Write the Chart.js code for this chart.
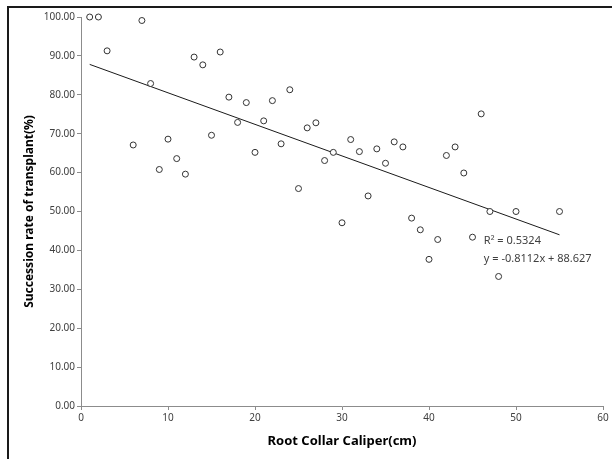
<!DOCTYPE html>
<html lang="en">
<head>
  <meta charset="UTF-8" />
  <title>Root Collar Caliper vs Succession rate</title>
  <style>
    body {
      margin: 0;
      background: #ffffff;
    }
    .chart-wrap {
      width: 612px;
      height: 459px;
      position: relative;
    }
  </style>
</head>
<body>
  <div class="chart-wrap">
    <canvas id="scatterChart" width="612" height="459"></canvas>
  </div>

  <script src="https://cdn.jsdelivr.net/npm/chart.js"></script>
  <script>
// data
const caliper = [1, 2, 3, 6, 7, 8, 9, 10, 11, 12, 13, 14, 15, 16, 17, 18, 19, 20, 21, 22, 23, 24,
  25, 26, 27, 28, 29, 30, 31, 32, 33, 34, 35, 36, 37, 38, 39, 40, 41, 42, 43, 44, 45, 46, 47, 48, 50, 55];
const successRate = [100, 100, 91.3, 67.1, 99.1, 82.9, 60.8, 68.6, 63.6, 59.6, 89.7, 87.7, 69.6, 91.0,
  79.4, 72.9, 78.0, 65.2, 73.3, 78.5, 67.4, 81.3, 55.9, 71.5, 72.8, 63.1, 65.2, 47.1, 68.5, 65.4,
  54.0, 66.1, 62.4, 67.9, 66.6, 48.3, 45.3, 37.7, 42.8, 64.4, 66.6, 59.9, 43.4, 75.1, 50.0, 33.3, 50.0, 50.0];

// trendline from the printed equation
const slope = -0.8112;
const intercept = 88.627;
const rSquared = "0.5324";
const trendText = ["R\u00B2 = " + rSquared, "y = -0.8112x + 88.627"];

const xTicks = [0, 10, 20, 30, 40, 50, 60];
const yTicks = [0, 10, 20, 30, 40, 50, 60, 70, 80, 90, 100];

const points = caliper.map((x, i) => ({ x: x, y: successRate[i] }));
const xMin = Math.min(...caliper);
const xMax = Math.max(...caliper);
const trendPoints = [xMin, xMax].map(x => ({ x: x, y: slope * x + intercept }));

const axisGray = "#8c8c8c";
const labelColor = "#404040";

// frame lines + equation label
const extras = {
  id: "extras",
  afterDraw(chart) {
    const ctx = chart.ctx;
    const xs = chart.scales.x, ys = chart.scales.y;
    ctx.save();
    ctx.strokeStyle = "#1a1a1a";
    ctx.lineWidth = 2;
    ctx.beginPath();
    ctx.moveTo(8, 459);
    ctx.lineTo(8, 7);
    ctx.lineTo(612, 7);
    ctx.stroke();

    ctx.fillStyle = labelColor;
    ctx.font = "11px 'Noto Sans', sans-serif";
    ctx.textAlign = "left";
    ctx.textBaseline = "middle";
    const tx = xs.getPixelForValue(46.3);
    ctx.fillText(trendText[0], tx, ys.getPixelForValue(42.4));
    ctx.fillText(trendText[1], tx, ys.getPixelForValue(37.8));
    ctx.restore();
  }
};

new Chart(document.getElementById("scatterChart"), {
  type: "scatter",
  data: {
    datasets: [
      {
        label: "trend",
        type: "line",
        data: trendPoints,
        borderColor: "#1a1a1a",
        borderWidth: 1,
        pointRadius: 0,
        fill: false,
        order: 2
      },
      {
        label: "Succession rate",
        data: points,
        pointRadius: 3,
        pointBorderWidth: 1,
        pointBorderColor: "#333333",
        pointBackgroundColor: "#ffffff",
        clip: false,
        order: 1
      }
    ]
  },
  options: {
    responsive: false,
    animation: false,
    layout: { padding: { top: 17, right: 9, left: 0, bottom: 0 } },
    plugins: {
      legend: { display: false },
      tooltip: { enabled: false }
    },
    scales: {
      x: {
        type: "linear",
        min: 0,
        max: 60,
        afterBuildTicks: s => { s.ticks = xTicks.map(v => ({ value: v })); },
        afterFit: s => { s.height = 53; },
        border: { color: axisGray, width: 1 },
        grid: { drawOnChartArea: false, drawTicks: true, tickLength: 4, color: axisGray },
        ticks: {
          color: labelColor,
          font: { family: "'Noto Sans', sans-serif", size: 10 },
          padding: 2
        },
        title: {
          display: true,
          text: "Root Collar Caliper(cm)",
          color: "#000000",
          font: { family: "'Noto Sans', sans-serif", size: 13, weight: "bold" },
          padding: { top: 0, bottom: 10 }
        }
      },
      y: {
        type: "linear",
        min: 0,
        max: 100,
        afterBuildTicks: s => { s.ticks = yTicks.map(v => ({ value: v })); },
        afterFit: s => { s.width = 81; },
        border: { color: axisGray, width: 1 },
        grid: { drawOnChartArea: false, drawTicks: true, tickLength: 4, color: axisGray },
        ticks: {
          color: labelColor,
          font: { family: "'Noto Sans', sans-serif", size: 10 },
          padding: 2,
          callback: v => v.toFixed(2)
        },
        title: {
          display: true,
          text: "Succession rate of transplant(%)",
          color: "#000000",
          font: { family: "'Noto Sans', sans-serif", size: 12, weight: "bold" },
          padding: { top: 22, bottom: 0 }
        }
      }
    }
  },
  plugins: [extras]
});
  </script>
</body>
</html>
